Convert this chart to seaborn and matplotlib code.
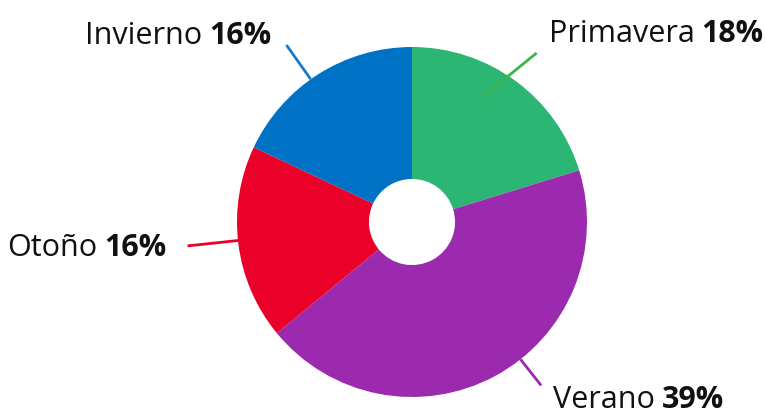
import matplotlib.pyplot as plt
import seaborn as sns
import numpy as np

# datos
estaciones = ['Primavera', 'Verano', 'Otoño', 'Invierno']
porcentajes = [18, 39, 16, 16]
colores = ['#2bb673', '#9b2aaf', '#ea0029', '#0072c6']
colores_linea = ['#3cb44a', '#9b2aaf', '#ea0029', '#1a7ac8']

sns.set_theme(style='white')
plt.rcParams['font.family'] = ['Open Sans', 'DejaVu Sans']

fig = plt.figure(figsize=(7.66, 4.15), dpi=100)
ax = fig.add_axes([0, 0, 1, 1])

wedges, _ = ax.pie(porcentajes, colors=colores, startangle=90, counterclock=False,
                   radius=1, wedgeprops=dict(width=0.754, linewidth=0))

# el pie cambia los limites, se ponen despues
R = 175.0
ax.set_xlim(-412 / R, (766 - 412) / R)
ax.set_ylim(-(415 - 222) / R, 222 / R)
ax.set_aspect('auto')
ax.axis('off')

# lineas guia: ajuste de angulo al inicio y al final (grados), radios
aj_ini = [-7, -10, 1, -3]
aj_fin = [0, -10, 1, -3]
r_ini = [0.82, 1.0, 0.99, 1.0]
r_fin = [1.2, 1.19, 1.29, 1.24]
# desplazamiento del texto (px) respecto al final de la linea
desp = [(12, 11), (12, -23), (-21, -10), (-15, 1)]

for i, w in enumerate(wedges):
    mid = (w.theta1 + w.theta2) / 2
    a0 = np.deg2rad(mid - aj_ini[i])
    a1 = np.deg2rad(mid - aj_fin[i])
    x0, y0 = r_ini[i] * np.cos(a0), r_ini[i] * np.sin(a0)
    x1, y1 = r_fin[i] * np.cos(a1), r_fin[i] * np.sin(a1)
    ax.plot([x0, x1], [y0, y1], color=colores_linea[i], lw=2, solid_capstyle='butt')
    pct = f'{porcentajes[i]}%'
    dx, dy = desp[i]
    if dx > 0:
        t = ax.annotate(estaciones[i], xy=(x1, y1), xytext=(dx, dy), textcoords='offset pixels',
                        ha='left', va='baseline', fontsize=22, color='#111111')
        ax.annotate(pct, xy=(1, 0), xycoords=t, xytext=(7, 0), textcoords='offset pixels',
                    ha='left', va='bottom', fontsize=22, fontweight='bold', color='#111111')
    else:
        t = ax.annotate(pct, xy=(x1, y1), xytext=(dx, dy), textcoords='offset pixels',
                        ha='right', va='baseline', fontsize=22, fontweight='bold', color='#111111')
        ax.annotate(estaciones[i], xy=(0, 0), xycoords=t, xytext=(-7, 0), textcoords='offset pixels',
                    ha='right', va='bottom', fontsize=22, color='#111111')

fig.savefig('out.png', dpi=100)
